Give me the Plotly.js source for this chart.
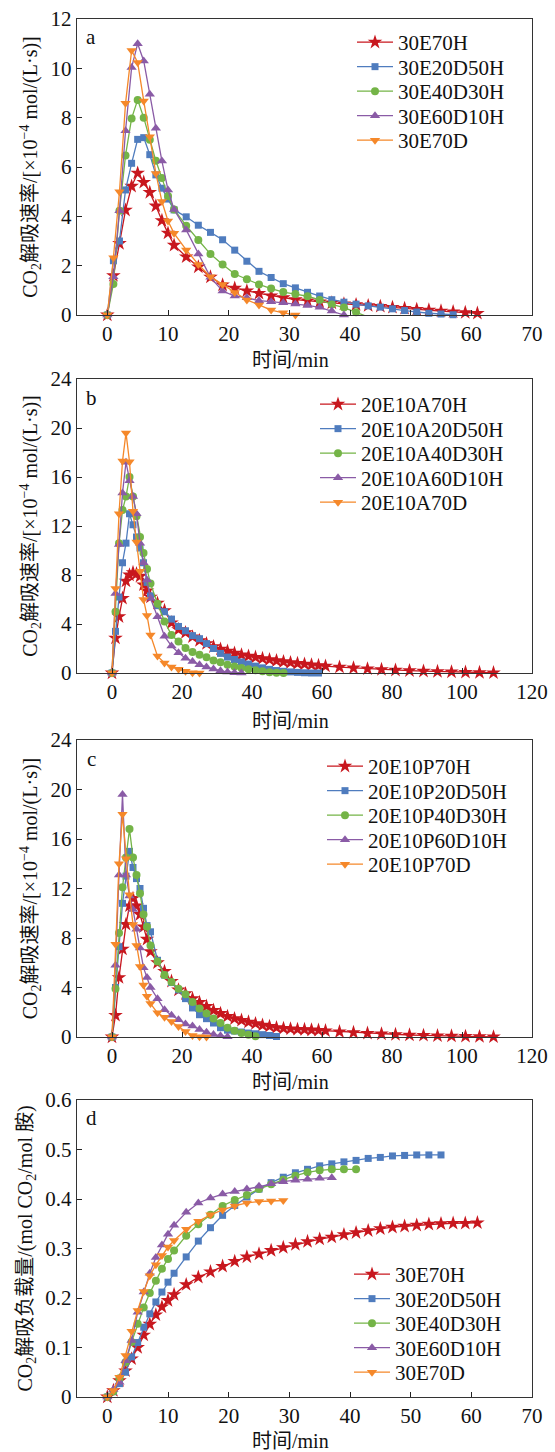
<!DOCTYPE html>
<html>
<head>
<meta charset="utf-8">
<script src="https://cdn.plot.ly/plotly-3.0.1.min.js"></script>
<style>html,body{margin:0;padding:0;background:#fff;}#chart{width:555px;height:1452px;}</style>
</head>
<body>
<div id="chart"></div>
<script>
// ---------- Panel a : 30E series, desorption rate ----------
const namesA = ["30E70H","30E20D50H","30E40D30H","30E60D10H","30E70D"];
const tA_red = [0,1,2,3,4,5,6,7,8,9,10,11,13,15,17,19,21,23,25,27,29,31,33,35,37,39,41,43,45,47,49,51,53,55,57,59,61];
const yA_red = [0,1.6,2.9,4.25,5.22,5.75,5.38,4.97,4.42,3.83,3.32,2.83,2.36,1.95,1.54,1.22,1.09,0.98,0.88,0.78,0.7,0.62,0.57,0.53,0.49,0.45,0.42,0.38,0.35,0.31,0.27,0.23,0.2,0.16,0.13,0.1,0.07];
const tA_blue = [0,1,2,3,4,5,6,7,8,9,10,11,13,15,17,19,21,23,25,27,29,31,33,35,37,39,41,43,45,47,49,51,53,55,57];
const yA_blue = [0,2.2,3.0,5.07,6.15,7.12,7.19,6.5,5.68,5.14,4.7,4.26,3.98,3.64,3.35,3.05,2.63,2.18,1.77,1.52,1.27,1.1,0.92,0.77,0.62,0.52,0.44,0.37,0.32,0.25,0.18,0.12,0.07,0.04,0.01];
const tA_green = [0,1,2,3,4,5,6,7,8,9,10,11,13,15,17,19,21,23,25,27,29,31,33,35,37,39,41,43];
const yA_green = [0,1.26,4.23,6.47,7.97,8.72,8.0,7.1,6.25,5.55,4.82,4.28,3.62,3.04,2.47,2.05,1.66,1.45,1.24,1.07,0.93,0.85,0.76,0.61,0.43,0.3,0.11,-0.08];
const tA_purple = [0,1,2,3,4,5,6,7,8,9,10,11,13,15,17,19,21,23,25,27,29,31,33,35,37,39];
const yA_purple = [0,1.55,4.23,7.47,10.03,11.0,10.3,8.95,7.57,6.24,5.07,4.28,3.45,2.47,1.53,0.97,0.77,0.7,0.58,0.54,0.5,0.45,0.39,0.31,0.16,0.0];
const tA_orange = [0,1,2,3,4,5,6,7,8,9,10,11,13,15,17,19,21,23,25,27,29,31];
const yA_orange = [0,2.32,5.0,8.58,10.72,10.24,8.68,7.23,5.74,4.6,3.81,3.31,2.64,2.05,1.55,1.24,0.91,0.61,0.41,0.2,0.09,0.0];

// ---------- Panel b : 20E10A series ----------
const namesB = ["20E10A70H","20E10A20D50H","20E10A40D30H","20E10A60D10H","20E10A70D"];
const tB_red = [0,1,2,3,4,5,6,7,8,9,10,11,13,15,17,19,21,23,25,27,29,31,33,35,37,39,41,43,45,47,49,51,53,55,57,59,61,65,69,73,77,81,85,89,93,97,101,105,109];
const yB_red = [0,2.85,4.6,6.1,7.5,8.0,8.2,8.1,7.9,7.2,6.7,6.2,5.7,5.1,4.1,3.55,3.3,2.95,2.65,2.4,2.15,1.95,1.78,1.62,1.48,1.38,1.28,1.18,1.09,1.0,0.92,0.85,0.78,0.72,0.66,0.61,0.56,0.48,0.41,0.34,0.28,0.23,0.19,0.15,0.12,0.09,0.06,0.04,0.02];
const tB_blue = [0,1,2,3,4,5,6,7,8,9,10,11,13,15,17,19,21,23,25,27,29,31,33,35,37,39,41,43,45,47,49,51,53,55,57,59];
const yB_blue = [0,3.4,6.2,9.0,10.6,13.0,12.1,11.1,10.2,9.0,7.4,6.3,5.5,5.0,4.4,3.8,3.45,3.05,2.8,2.4,2.0,1.6,1.3,1.1,0.9,0.73,0.56,0.42,0.3,0.2,0.14,0.09,0.05,0.02,0.0,0.0];
const tB_green = [0,1,2,3,4,5,6,7,8,9,10,11,13,15,17,19,21,23,25,27,29,31,33,35,37,39,41,43,45,47,49];
const yB_green = [0,5.0,10.6,13.3,14.4,16.0,14.4,12.8,11.1,9.8,8.5,7.3,5.65,4.2,3.1,2.58,2.04,1.71,1.49,1.28,1.03,0.87,0.68,0.54,0.41,0.3,0.22,0.14,0.07,0.03,0.0];
const tB_purple = [0,1,2,3,4,5,6,7,8,9,10,11,13,15,17,19,21,23,25,27,29,31,33,35,37];
const yB_purple = [0,6.5,10.5,14.7,17.2,15.7,14.4,13.0,10.6,9.0,7.6,6.1,4.6,3.0,2.2,1.65,1.2,0.93,0.68,0.48,0.32,0.19,0.08,0.02,0.0];
const tB_orange = [0,1,2,3,4,5,6,7,8,9,10,11,13,15,17,19,21,23,25];
const yB_orange = [0,6.9,13.0,17.3,19.6,17.25,13.2,10.7,8.3,6.0,4.7,3.1,1.38,0.82,0.5,0.3,0.14,0.03,0.0];

// ---------- Panel c : 20E10P series ----------
const namesC = ["20E10P70H","20E10P20D50H","20E10P40D30H","20E10P60D10H","20E10P70D"];
const tC_red = [0,1,2,3,4,5,6,7,8,9,10,11,13,15,17,19,21,23,25,27,29,31,33,35,37,39,41,43,45,47,49,51,53,55,57,59,61,65,69,73,77,81,85,89,93,97,101,105,109];
const yC_red = [0,1.75,4.8,7.1,9.1,10.6,11.2,10.6,9.9,8.9,7.9,6.9,6.0,5.3,4.5,3.8,3.5,3.1,2.8,2.48,2.16,1.9,1.67,1.48,1.35,1.21,1.08,0.95,0.86,0.76,0.7,0.66,0.62,0.6,0.57,0.54,0.5,0.42,0.36,0.3,0.25,0.2,0.16,0.13,0.1,0.08,0.05,0.03,0.01];
const tC_blue = [0,1,2,3,4,5,6,7,8,9,10,11,13,15,17,19,21,23,25,27,29,31,33,35,37,39,41,43,45,47];
const yC_blue = [0,4.0,7.3,10.8,13.0,15.0,13.7,12.8,12.0,10.4,9.0,8.5,6.2,5.0,4.4,3.8,3.1,2.35,1.8,1.48,1.13,0.75,0.55,0.48,0.4,0.32,0.26,0.19,0.12,0.04];
const tC_green = [0,1,2,3,4,5,6,7,8,9,10,11,13,15,17,19,21,23,25,27,29,31,33,35,37,39,41];
const yC_green = [0,3.9,8.4,12.1,14.5,16.8,14.5,13.1,11.6,9.9,8.9,7.4,6.1,5.0,4.45,3.9,3.45,2.83,2.3,1.9,1.5,1.13,0.75,0.5,0.32,0.19,0.06];
const tC_purple = [0,1,2,3,4,5,6,7,8,9,10,11,13,15,17,19,21,23,25,27,29,31,33];
const yC_purple = [0,5.8,13.1,19.6,13.1,11.4,10.3,8.7,7.2,5.6,4.8,4.0,3.1,2.2,1.75,1.4,1.05,0.88,0.6,0.38,0.2,0.1,0.02];
const tC_orange = [0,1,2,3,4,5,6,7,8,9,10,11,13,15,17,19,21,23,25,27];
const yC_orange = [0,7.5,14.0,18.0,14.4,11.5,9.1,7.4,5.7,4.2,3.3,2.7,1.95,1.6,1.25,0.85,0.45,0.12,0.02,0.0];

// ---------- Panel d : 30E series, CO2 loading ----------
const namesD = ["30E70H","30E20D50H","30E40D30H","30E60D10H","30E70D"];
const tD_red = [0,1,2,3,4,5,6,7,8,9,10,11,13,15,17,19,21,23,25,27,29,31,33,35,37,39,41,43,45,47,49,51,53,55,57,59,61];
const yD_red = [0,0.013,0.033,0.053,0.077,0.1,0.125,0.147,0.166,0.182,0.195,0.207,0.227,0.242,0.253,0.264,0.274,0.283,0.289,0.296,0.302,0.308,0.314,0.319,0.323,0.328,0.332,0.336,0.34,0.343,0.345,0.347,0.349,0.35,0.351,0.351,0.352];
const tD_blue = [0,1,2,3,4,5,6,7,8,9,10,11,13,15,17,19,21,23,25,27,29,31,33,35,37,39,41,43,45,47,49,51,53,55];
const yD_blue = [0,0.011,0.027,0.05,0.081,0.11,0.141,0.168,0.192,0.212,0.232,0.25,0.283,0.315,0.342,0.367,0.387,0.404,0.42,0.433,0.444,0.453,0.46,0.467,0.471,0.475,0.478,0.482,0.484,0.487,0.488,0.489,0.489,0.489];
const tD_green = [0,1,2,3,4,5,6,7,8,9,10,11,13,15,17,19,21,23,25,27,29,31,33,35,37,39,41];
const yD_green = [0,0.011,0.038,0.07,0.111,0.148,0.181,0.21,0.235,0.259,0.279,0.296,0.326,0.349,0.368,0.386,0.398,0.408,0.42,0.43,0.439,0.447,0.454,0.458,0.46,0.46,0.46];
const tD_purple = [0,1,2,3,4,5,6,7,8,9,10,11,13,15,17,19,21,23,25,27,29,31,33,35,37];
const yD_purple = [0,0.015,0.03,0.073,0.114,0.171,0.212,0.25,0.282,0.307,0.329,0.347,0.373,0.392,0.402,0.41,0.415,0.42,0.426,0.431,0.435,0.438,0.44,0.442,0.443];
const tD_orange = [0,1,2,3,4,5,6,7,8,9,10,11,13,15,17,19,21,23,25,27,29];
const yD_orange = [0,0.013,0.04,0.084,0.133,0.175,0.213,0.245,0.267,0.286,0.303,0.316,0.339,0.355,0.368,0.378,0.386,0.392,0.395,0.396,0.397];

// tick labels / titles
const panelLabels = ["a","b","c","d"];
const xTitle = "时间/min";
const yTitleRate = "CO<sub>2</sub>解吸速率/[×10<sup>−4</sup> mol/(L·s)]";
const yTitleLoad = "CO<sub>2</sub>解吸负载量/(mol CO<sub>2</sub>/mol 胺)";

// ---------- styling ----------
const FONT = 'Liberation Serif, "Times New Roman", "Noto Sans CJK SC", serif';
const styles = [
  {color:"#C8171E", symbol:"star", size:11},
  {color:"#4F7CBE", symbol:"square", size:7},
  {color:"#74B447", symbol:"circle", size:8},
  {color:"#8A5BA6", symbol:"triangle-up", size:9},
  {color:"#F5882A", symbol:"triangle-down", size:9}
];

function mk(x, y, name, i, n) {
  const s = styles[i];
  return {
    x: x, y: y, name: name, type: "scatter", mode: "lines+markers",
    xaxis: n === 1 ? "x" : "x" + n, yaxis: n === 1 ? "y" : "y" + n,
    legend: n === 1 ? "legend" : "legend" + n,
    line: {color: s.color, width: 1.3},
    marker: {color: s.color, symbol: s.symbol, size: s.size, line: {width: 0}},
    cliponaxis: false
  };
}

const data = [
  mk(tA_red, yA_red, namesA[0], 0, 1), mk(tA_blue, yA_blue, namesA[1], 1, 1),
  mk(tA_green, yA_green, namesA[2], 2, 1), mk(tA_purple, yA_purple, namesA[3], 3, 1),
  mk(tA_orange, yA_orange, namesA[4], 4, 1),
  mk(tB_red, yB_red, namesB[0], 0, 2), mk(tB_blue, yB_blue, namesB[1], 1, 2),
  mk(tB_green, yB_green, namesB[2], 2, 2), mk(tB_purple, yB_purple, namesB[3], 3, 2),
  mk(tB_orange, yB_orange, namesB[4], 4, 2),
  mk(tC_red, yC_red, namesC[0], 0, 3), mk(tC_blue, yC_blue, namesC[1], 1, 3),
  mk(tC_green, yC_green, namesC[2], 2, 3), mk(tC_purple, yC_purple, namesC[3], 3, 3),
  mk(tC_orange, yC_orange, namesC[4], 4, 3),
  mk(tD_red, yD_red, namesD[0], 0, 4), mk(tD_blue, yD_blue, namesD[1], 1, 4),
  mk(tD_green, yD_green, namesD[2], 2, 4), mk(tD_purple, yD_purple, namesD[3], 3, 4),
  mk(tD_orange, yD_orange, namesD[4], 4, 4)
];

const H = 1452, W = 555;
const fy = px => 1 - px / H;
const fx = px => px / W;
const xDom = [fx(77), fx(532)];

function xax(range, dtick, anchor) {
  return {
    domain: xDom, anchor: anchor, range: range, dtick: dtick, tick0: 0,
    showline: true, linecolor: "#333", linewidth: 1.2, mirror: true,
    ticks: "inside", ticklen: 5, tickcolor: "#222", showgrid: false, zeroline: false,
    tickfont: {family: FONT, size: 21, color: "#111"},
    automargin: false, fixedrange: true
  };
}
function yax(dom, range, dtick, anchor, title) {
  return {
    domain: dom, anchor: anchor, range: range, dtick: dtick, tick0: 0,
    showline: true, linecolor: "#333", linewidth: 1.2, mirror: true,
    ticks: "inside", ticklen: 5, tickcolor: "#222", showgrid: false, zeroline: false,
    tickfont: {family: FONT, size: 21, color: "#111"},
    title: {text: title, font: {family: FONT, size: 20, color: "#111"}, standoff: 7},
    automargin: false, fixedrange: true
  };
}

function leg(xpx, ypx) {
  return {x: fx(xpx), y: fy(ypx), xanchor: "left", yanchor: "top",
    bgcolor: "rgba(0,0,0,0)", borderwidth: 0, tracegroupgap: 0,
    font: {family: FONT, size: 21, color: "#111"}, itemwidth: 36};
}

const annFont = {family: FONT, size: 21, color: "#111"};
const annotations = [
  {text: panelLabels[0], x: fx(91), y: fy(37)},
  {text: panelLabels[1], x: fx(91), y: fy(398)},
  {text: panelLabels[2], x: fx(91), y: fy(759)},
  {text: panelLabels[3], x: fx(91), y: fy(1118)},
  {text: xTitle, x: fx(290), y: fy(360), font: {family: FONT, size: 20, color: "#111"}},
  {text: xTitle, x: fx(290), y: fy(721), font: {family: FONT, size: 20, color: "#111"}},
  {text: xTitle, x: fx(290), y: fy(1082), font: {family: FONT, size: 20, color: "#111"}},
  {text: xTitle, x: fx(290), y: fy(1441), font: {family: FONT, size: 20, color: "#111"}}
].map(a => Object.assign({xref: "paper", yref: "paper", showarrow: false,
    xanchor: "center", yanchor: "middle", font: annFont}, a));

const layout = {
  width: W, height: H,
  margin: {l: 0, r: 0, t: 0, b: 0},
  paper_bgcolor: "#fff", plot_bgcolor: "#fff",
  showlegend: true,
  xaxis: xax([-5, 70], 10, "y"),
  yaxis: yax([fy(315), fy(19)], [0, 12], 2, "x", yTitleRate),
  xaxis2: xax([-10, 120], 20, "y2"),
  yaxis2: yax([fy(673), fy(379)], [0, 24], 4, "x2", yTitleRate),
  xaxis3: xax([-10, 120], 20, "y3"),
  yaxis3: yax([fy(1037), fy(740)], [0, 24], 4, "x3", yTitleRate),
  xaxis4: xax([-5, 70], 10, "y4"),
  yaxis4: yax([fy(1397), fy(1100)], [0, 0.6], 0.1, "x4", yTitleLoad),
  legend: leg(352, 22),
  legend2: leg(315, 384),
  legend3: leg(322, 746),
  legend4: leg(349, 1254),
  annotations: annotations
};

// Tighten the legend row spacing to match the reference (~24.5 px per row)
const ROW = 24.5;
function tightenLegends() {
  ["legend", "legend2", "legend3", "legend4"].forEach(id => {
    const root = document.querySelector("#chart g.infolayer g." + id);
    if (!root) return;
    const items = root.querySelectorAll("g.traces");
    let y0 = null;
    items.forEach((g, i) => {
      const tr = g.getAttribute("transform") || "";
      const m = tr.match(/translate\(\s*([-\d.eE]+)[ ,]+([-\d.eE]+)\s*\)/);
      if (!m) return;
      const x = parseFloat(m[1]), y = parseFloat(m[2]);
      if (y0 === null) y0 = y;
      g.setAttribute("transform", "translate(" + x + "," + (y0 + i * ROW) + ")");
    });
  });
}

Plotly.newPlot("chart", data, layout, {staticPlot: true, displayModeBar: false}).then(tightenLegends);
</script>
</body>
</html>
